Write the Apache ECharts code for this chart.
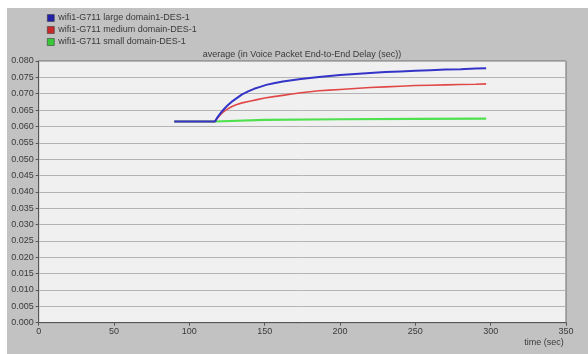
<!DOCTYPE html>
<html>
<head>
<meta charset="utf-8">
<script src="https://cdn.jsdelivr.net/npm/echarts@6/dist/echarts.min.js"></script>
<style>
  html, body { margin: 0; padding: 0; background: #ffffff; }
  #chart { width: 588px; height: 354px; }
</style>
</head>
<body>
<div id="chart"></div>
<script>
// Simulation time (sec) and averaged voice packet end-to-end delay (sec)
const seriesNames = [
  'wifi1-G711 large domain1-DES-1',
  'wifi1-G711 medium domain-DES-1',
  'wifi1-G711 small domain-DES-1'
];

const largeTime  = [90, 117, 118, 119, 120, 122, 124, 126, 128, 131, 135, 139, 143, 147, 151, 156, 162, 168, 174, 180, 186, 193, 200, 210, 220, 230, 240, 250, 260, 270, 280, 290, 297];
const largeDelay = [0.0615, 0.0615, 0.0623, 0.0630, 0.0636, 0.0648, 0.0658, 0.0667, 0.0675, 0.0685, 0.0698, 0.0707, 0.0715, 0.0721, 0.0727, 0.0732, 0.0737, 0.0741, 0.0745, 0.0748, 0.0751, 0.0754, 0.0757, 0.0760, 0.0763, 0.0766, 0.0768, 0.0770, 0.0772, 0.0774, 0.0775, 0.0777, 0.0778];

const mediumTime  = [90, 117, 118, 119, 120, 122, 124, 126, 128, 131, 135, 140, 145, 150, 156, 162, 168, 174, 180, 186, 193, 200, 210, 220, 230, 240, 250, 260, 270, 280, 290, 297];
const mediumDelay = [0.0615, 0.0615, 0.0622, 0.0628, 0.0633, 0.0642, 0.0649, 0.0655, 0.0660, 0.0666, 0.0672, 0.0677, 0.0682, 0.0687, 0.0691, 0.0695, 0.0699, 0.0703, 0.0706, 0.0709, 0.0711, 0.0713, 0.0716, 0.0719, 0.0721, 0.0723, 0.0725, 0.0726, 0.0727, 0.0728, 0.0729, 0.0730];

const smallTime  = [90, 117, 118, 150, 200, 250, 297];
const smallDelay = [0.0615, 0.0615, 0.0618, 0.0620, 0.0622, 0.0623, 0.0624];

const xTicks = [0, 50, 100, 150, 200, 250, 300, 350];
const yTicks = [0, 0.005, 0.010, 0.015, 0.020, 0.025, 0.030, 0.035, 0.040, 0.045, 0.050, 0.055, 0.060, 0.065, 0.070, 0.075, 0.080];

const lineColors   = ['#3434c8', '#e04848', '#4ee04e'];
const legendColors = ['#2020a8', '#c82828', '#38c838'];

function pairs(xs, ys) { return xs.map((x, i) => [x, ys[i]]); }

const FONT = '"Liberation Sans", Arial, sans-serif';
const chart = echarts.init(document.getElementById('chart'), null, { renderer: 'canvas' });

chart.setOption({
  animation: false,
  backgroundColor: '#ffffff',
  textStyle: { fontFamily: FONT },
  graphic: [
    { type: 'rect', z: -10, shape: { x: 7, y: 8, width: 581, height: 346 }, style: { fill: '#c2c2c2' }, silent: true },
    { type: 'text', x: 302, y: 55, style: { text: 'average (in Voice Packet End-to-End Delay (sec))', fontFamily: FONT, fontSize: 9, fill: '#3a3a3a', textAlign: 'center', textVerticalAlign: 'middle' } },
    { type: 'text', x: 544, y: 343, style: { text: 'time (sec)', fontFamily: FONT, fontSize: 9, fill: '#3a3a3a', textAlign: 'center', textVerticalAlign: 'middle' } }
  ],
  legend: {
    orient: 'vertical',
    left: 47,
    top: 13,
    padding: 0,
    itemWidth: 7,
    itemHeight: 7,
    itemGap: 2,
    icon: 'rect',
    textStyle: { fontFamily: FONT, fontSize: 9, lineHeight: 10, color: '#3a3a3a', padding: [0, 0, 0, -1] },
    data: seriesNames.map((n, i) => ({ name: n, itemStyle: { color: legendColors[i], borderColor: '#404040', borderWidth: 0.6 } }))
  },
  grid: {
    left: 38.7, right: 22, top: 61, bottom: 31.3,
    show: true,
    backgroundColor: '#f0f0f0',
    borderColor: '#6e6e6e',
    borderWidth: 1
  },
  xAxis: {
    type: 'value',
    min: xTicks[0], max: xTicks[xTicks.length - 1], interval: 50,
    axisLine: { show: true, lineStyle: { color: '#555555', width: 1 } },
    axisTick: { show: true, length: 3, lineStyle: { color: '#555555' } },
    axisLabel: { fontSize: 9, color: '#3a3a3a', margin: 4, fontFamily: FONT },
    splitLine: { show: false }
  },
  yAxis: {
    type: 'value',
    min: yTicks[0], max: yTicks[yTicks.length - 1], interval: 0.005,
    axisLine: { show: true, lineStyle: { color: '#555555', width: 1 } },
    axisTick: { show: true, length: 3, lineStyle: { color: '#555555' } },
    axisLabel: { fontSize: 9, color: '#3a3a3a', margin: 5, fontFamily: FONT, formatter: v => v.toFixed(3) },
    splitLine: { show: true, lineStyle: { color: '#b4b4b4', width: 1 } }
  },
  series: [
    { name: seriesNames[0], type: 'line', z: 5, showSymbol: false, data: pairs(largeTime, largeDelay), lineStyle: { color: lineColors[0], width: 2 }, itemStyle: { color: legendColors[0] } },
    { name: seriesNames[1], type: 'line', z: 4, showSymbol: false, data: pairs(mediumTime, mediumDelay), lineStyle: { color: lineColors[1], width: 1.6 }, itemStyle: { color: legendColors[1] } },
    { name: seriesNames[2], type: 'line', z: 3, showSymbol: false, data: pairs(smallTime, smallDelay), lineStyle: { color: lineColors[2], width: 2.2 }, itemStyle: { color: legendColors[2] } }
  ]
});
</script>
</body>
</html>
